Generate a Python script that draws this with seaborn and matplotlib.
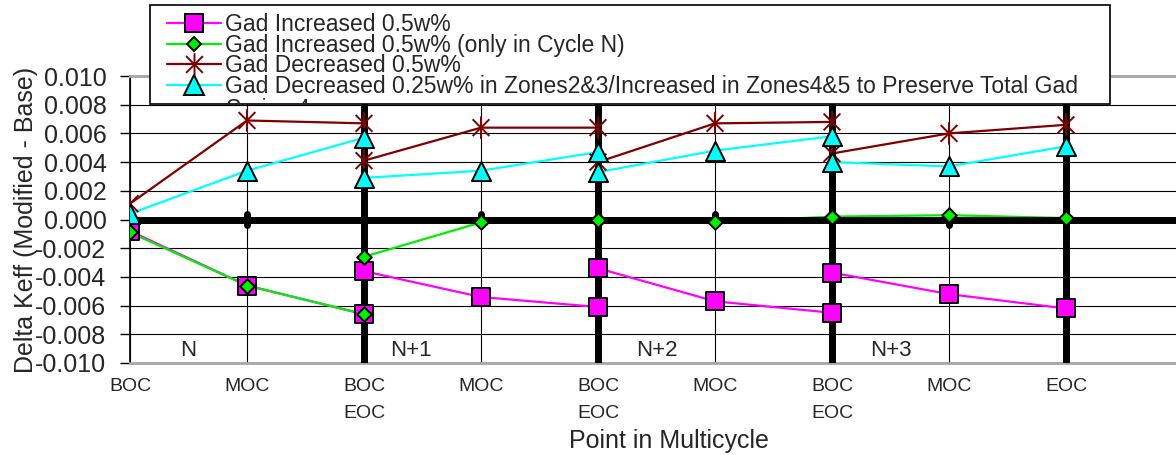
import matplotlib
matplotlib.use('Agg')
import matplotlib.pyplot as plt
import seaborn as sns
from matplotlib.path import Path
from matplotlib.patches import Rectangle

# Data
positions = [0, 1, 2, 2, 3, 4, 4, 5, 6, 6, 7, 8]
tick_pos = [0, 1, 2, 3, 4, 5, 6, 7, 8]
tick_labels = ['BOC', 'MOC', 'BOC\nEOC', 'MOC', 'BOC\nEOC', 'MOC', 'BOC\nEOC', 'MOC', 'EOC']
cycle_labels = ['N', 'N+1', 'N+2', 'N+3']

gad_inc = [-0.0008, -0.0046, -0.0066, -0.0036, -0.0054, -0.0061, -0.0034, -0.0057, -0.0065, -0.0037, -0.0052, -0.0062]
gad_inc_cycle_n = [-0.0009, -0.0046, -0.0066, -0.0026, -0.0002, 0.0000, 0.0000, -0.0002, 0.0002, 0.0002, 0.0003, 0.0001]
gad_dec = [0.0011, 0.0069, 0.0067, 0.0041, 0.0064, 0.0064, 0.0040, 0.0067, 0.0068, 0.0046, 0.0060, 0.0066]
gad_dec_zones = [0.0004, 0.0034, 0.0057, 0.0029, 0.0034, 0.0047, 0.0033, 0.0048, 0.0058, 0.0040, 0.0037, 0.0051]

series_names = ['Gad Increased 0.5w%',
                'Gad Increased 0.5w% (only in Cycle N)',
                'Gad Decreased 0.5w%',
                'Gad Decreased 0.25w% in Zones2&3/Increased in Zones4&5 to Preserve Total Gad']

sns.set_style('white')
plt.rcParams['font.family'] = ['Liberation Sans', 'DejaVu Sans']
plt.rcParams['axes.unicode_minus'] = False

# asterisk like excel: vertical bar + X
star = Path([(0, -1), (0, 1), (-0.75, -0.75), (0.75, 0.75), (-0.75, 0.75), (0.75, -0.75)],
            [Path.MOVETO, Path.LINETO, Path.MOVETO, Path.LINETO, Path.MOVETO, Path.LINETO])

styles = [
    dict(color='#FF00FF', marker='s', s=150, face='#FF00FF', edge='black'),
    dict(color='#00EE00', marker='D', s=55, face='#00EE00', edge='black'),
    dict(color='#800000', marker=star, s=260, face='none', edge='#800000'),
    dict(color='#00FFFF', marker='^', s=190, face='#00FFFF', edge='black'),
]
values = [gad_inc, gad_inc_cycle_n, gad_dec, gad_dec_zones]

W, H = 1176, 455
px_per_x = 117
right_px = 1208  # plot area runs past the right edge of the picture
fig = plt.figure(figsize=(W / 100, H / 100), dpi=100)
ax = fig.add_axes([130 / W, 1 - 363 / H, (right_px - 130) / W, (363 - 76) / H])

for vals, st in zip(values, styles):
    sns.lineplot(x=positions, y=vals, estimator=None, sort=False, color=st['color'],
                 linewidth=1.6, ax=ax, zorder=2)
    sns.scatterplot(x=positions, y=vals, marker=st['marker'], s=st['s'], color=st['face'],
                    edgecolor=st['edge'], linewidth=1.4, ax=ax, zorder=5)

# thick cycle boundaries and zero line
ax.axhline(0, color='black', lw=5, zorder=3)
ax.vlines([2, 4, 6, 8], -0.010, 0.010, color='black', lw=5, zorder=3, capstyle='round')
ax.vlines([1, 3, 5, 7], -0.00035, 0.00035, color='black', lw=5, zorder=3, capstyle='round')

for lbl, xp in zip(cycle_labels, [0.5, 2.4, 4.5, 6.5]):
    ax.text(xp, -0.0091, lbl, fontsize=16, ha='center', va='center', zorder=4)

ax.set_xlim(0, (right_px - 130) / px_per_x)
ax.set_ylim(-0.010, 0.010)
yt = [-0.010 + 0.002 * i for i in range(11)]
ax.set_yticks(yt)
ax.set_yticklabels([f'{v:.3f}' if abs(v) > 1e-9 else '0.000' for v in yt], fontsize=18)
ax.set_xticks(tick_pos)
ax.set_xticklabels(tick_labels, fontsize=14)
for lbl in ax.get_xticklabels():
    lbl.set_linespacing(1.75)
    lbl.set_verticalalignment('top')
ax.tick_params(axis='x', length=0, pad=11)
ax.tick_params(axis='y', length=7, width=1, color='black', pad=10, left=True, direction='out')

ax.grid(True, color='black', lw=0.8, zorder=1)
ax.set_axisbelow(True)
for side in ['top', 'bottom']:
    ax.spines[side].set_color('#a6a6a6')
    ax.spines[side].set_linewidth(2)
ax.spines['left'].set_color('black')
ax.spines['left'].set_linewidth(1.2)
ax.spines['right'].set_visible(False)

ax.set_xlabel('Point in Multicycle', fontsize=18, labelpad=5)
ax.set_ylabel('Delta Keff (Modified - Base)', fontsize=18, labelpad=-2)

# legend box, partly hiding a fifth entry like the original
box = Rectangle((150 / W, 1 - 104 / H), (1110 - 150) / W, 99 / H, transform=fig.transFigure,
                facecolor='white', edgecolor='black', lw=1.2, zorder=9)
fig.add_artist(box)
handles = []
for st, name in zip(styles, series_names):
    h, = ax.plot([], [], color=st['color'], lw=1.6, marker=st['marker'],
                 markersize=st['s'] ** 0.5, markerfacecolor=st['face'],
                 markeredgecolor=st['edge'], markeredgewidth=1.4, label=name)
    handles.append(h)
leg = fig.legend(handles=handles, loc='upper left', bbox_to_anchor=(167 / W, 1 - 13 / H),
                 fontsize=16.5, frameon=False, labelspacing=-0.1, handlelength=2.35,
                 handletextpad=0.2, borderpad=0.0, borderaxespad=0)
leg.set_zorder(10)
extra = fig.text(226 / W, 1 - 110 / H, 'Series 4', fontsize=16.5, va='center', zorder=10)
extra.set_clip_path(box)

fig.savefig('out.png', dpi=100)
